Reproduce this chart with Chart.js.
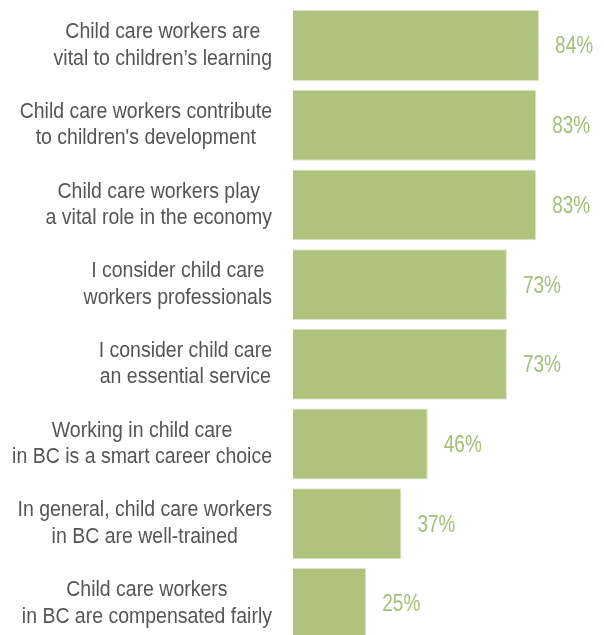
<!DOCTYPE html>
<html>
<head>
<meta charset="utf-8">
<script src="https://cdn.jsdelivr.net/npm/chart.js@4/dist/chart.umd.min.js"></script>
<style>
  html, body { margin: 0; padding: 0; background: #ffffff; overflow: hidden; }
  #wrap { width: 604px; height: 644px; }
</style>
</head>
<body>
<div id="wrap"><canvas id="c" width="604" height="644"></canvas></div>
<script>
// Survey statements (each entry is one label, split into its two lines)
const statements = [
  ["Child care workers are", "vital to children\u2019s learning"],
  ["Child care workers contribute", "to children's development"],
  ["Child care workers play", "a vital role in the economy"],
  ["I consider child care", "workers professionals"],
  ["I consider child care", "an essential service"],
  ["Working in child care", "in BC is a smart career choice"],
  ["In general, child care workers", "in BC are well-trained"],
  ["Child care workers", "in BC are compensated fairly"]
];

// Share of respondents who agree, in percent
const agreePct = [84, 83, 83, 73, 73, 46, 37, 25];

const BAR_COLOR = "#b0c37e";
const BAR_EDGE = "#dde6c8";
const VALUE_COLOR = "#a6be76";
const TEXT_COLOR = "#555555";
const FONT_FAMILY = "'Liberation Sans Narrow', 'Arial Narrow', 'Liberation Sans', Arial, sans-serif";

// Writes text squeezed horizontally to get a condensed look
function condensedText(ctx, text, x, y, sx) {
  ctx.save();
  ctx.translate(x, y);
  ctx.scale(sx, 1);
  ctx.fillText(text, 0, 0);
  ctx.restore();
}

// Draws the statement text to the left of each bar and the percentage after it
const labelPlugin = {
  id: "statementLabels",
  afterDatasetsDraw(chart) {
    const ctx = chart.ctx;
    const yScale = chart.scales.y;
    const meta = chart.getDatasetMeta(0);
    const rightEdge = 272;
    const lineGap = 26.5;
    const textSx = 0.915;
    const valueSx = 0.81;
    ctx.save();
    ctx.textBaseline = "middle";

    ctx.font = "21.3px " + FONT_FAMILY;
    ctx.fillStyle = TEXT_COLOR;
    ctx.textAlign = "center";
    statements.forEach((lines, i) => {
      const cy = yScale.getPixelForValue(i);
      const blockW = Math.max(...lines.map(l => ctx.measureText(l).width)) * textSx;
      const cx = rightEdge - blockW / 2;
      const startY = cy - (lines.length - 1) * lineGap / 2;
      lines.forEach((l, k) => condensedText(ctx, l, cx, startY + k * lineGap, textSx));
    });

    ctx.font = "23.5px " + FONT_FAMILY;
    ctx.fillStyle = VALUE_COLOR;
    ctx.textAlign = "left";
    meta.data.forEach((bar, i) => {
      condensedText(ctx, agreePct[i] + "%", bar.x + 16, bar.y + 1.5, valueSx);
    });
    ctx.restore();
  }
};

new Chart(document.getElementById("c"), {
  type: "bar",
  data: {
    labels: statements,
    datasets: [{
      data: agreePct,
      backgroundColor: BAR_COLOR,
      borderColor: BAR_EDGE,
      borderWidth: 1,
      barPercentage: 0.89,
      categoryPercentage: 1.0
    }]
  },
  options: {
    indexAxis: "y",
    responsive: false,
    animation: false,
    layout: { padding: { left: 293, right: 18, top: 5.65, bottom: 0.75 } },
    scales: {
      x: { display: false, min: 0, max: 100 },
      y: { display: false }
    },
    plugins: {
      legend: { display: false },
      tooltip: { enabled: false }
    }
  },
  plugins: [labelPlugin]
});
</script>
</body>
</html>
